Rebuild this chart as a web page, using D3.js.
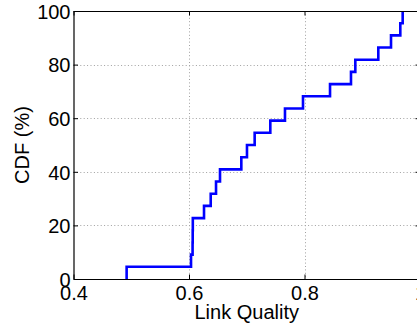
<!DOCTYPE html>
<html>
<head>
<meta charset="utf-8">
<script src="https://cdn.jsdelivr.net/npm/d3@7"></script>
<style>
  html, body { margin: 0; padding: 0; background: #fff; overflow: hidden; }
  svg { display: block; }
  text { font-family: "Liberation Sans", Arial, Helvetica, sans-serif; }
</style>
</head>
<body>
<svg id="chart" width="417" height="329"></svg>
<script>
// Sorted link-quality samples; each one raises the empirical CDF by 1/n.
const samples = [
  0.492, 0.6035, 0.6062, 0.6064, 0.6066, 0.626, 0.6376, 0.6468, 0.6537,
  0.6906, 0.7004, 0.7137, 0.7408, 0.7662, 0.7974, 0.8442, 0.8805, 0.888,
  0.9278, 0.9498, 0.9659, 0.970
];
const xTicks = [0.4, 0.6, 0.8, 1.0];
const xTickLabels = ["0.4", "0.6", "0.8", "1"];
const yTicks = [0, 20, 40, 60, 80, 100];
const xTitle = "Link Quality";
const yTitle = "CDF (%)";

const svg = d3.select("#chart");
const plotL = 73.5, plotR = 420, plotT = 11, plotB = 279;

const x = d3.scaleLinear().domain([0.4, 1.0]).range([plotL, plotR]);
const y = d3.scaleLinear().domain([0, 100]).range([plotB, plotT]);

// Dotted grid at interior ticks
const grid = svg.append("g")
  .attr("stroke", "#a0a0a0")
  .attr("stroke-width", 1)
  .attr("stroke-dasharray", "1,2.4");
grid.selectAll("line.gx")
  .data(xTicks.filter(v => v > 0.4 && v < 1.0))
  .join("line")
  .attr("x1", d => Math.round(x(d)) + 0.5).attr("x2", d => Math.round(x(d)) + 0.5)
  .attr("y1", plotT).attr("y2", plotB);
grid.selectAll("line.gy")
  .data(yTicks.filter(v => v > 0 && v < 100))
  .join("line")
  .attr("y1", d => Math.round(y(d)) + 0.5).attr("y2", d => Math.round(y(d)) + 0.5)
  .attr("x1", plotL).attr("x2", plotR);

// Empirical CDF as a step line
const n = samples.length;
const pts = [[samples[0], 0]].concat(samples.map((s, i) => [s, (i + 1) / n * 100]));
const line = d3.line()
  .x(d => x(d[0]))
  .y(d => y(d[1]))
  .curve(d3.curveStepAfter);
svg.append("path")
  .datum(pts)
  .attr("d", line)
  .attr("fill", "none")
  .attr("stroke", "#0000ff")
  .attr("stroke-width", 2.6)
  .attr("stroke-linejoin", "miter");

// Axes box with inward ticks
const tk = 4.5;
const fmtX = (d) => xTickLabels[xTicks.indexOf(d)];
const gB = svg.append("g").attr("transform", `translate(0,${plotB})`)
  .call(d3.axisBottom(x).tickValues(xTicks).tickFormat(fmtX).tickSize(-tk).tickSizeOuter(0).tickPadding(7));
const gT = svg.append("g").attr("transform", `translate(0,${plotT})`)
  .call(d3.axisTop(x).tickValues(xTicks).tickFormat("").tickSize(-tk).tickSizeOuter(0));
const gL = svg.append("g").attr("transform", `translate(${plotL},0)`)
  .call(d3.axisLeft(y).tickValues(yTicks).tickSize(-tk).tickSizeOuter(0).tickPadding(3));
const gR = svg.append("g").attr("transform", `translate(${plotR},0)`)
  .call(d3.axisRight(y).tickValues(yTicks).tickFormat("").tickSize(-tk).tickSizeOuter(0));

[gB, gT, gL, gR].forEach(g => {
  g.attr("font-size", null).attr("font-family", null);
  g.select(".domain").attr("stroke", "#000").attr("stroke-width", 1.2);
  g.selectAll(".tick line").attr("stroke", "#000").attr("stroke-width", 1);
  g.selectAll(".tick text").attr("fill", "#000").style("font-size", "20px");
});
gL.selectAll(".tick text").attr("dy", "0.36em");

// Axis titles
svg.append("text")
  .attr("x", (plotL + plotR) / 2).attr("y", 319)
  .attr("text-anchor", "middle")
  .style("font-size", "20px")
  .text(xTitle);
svg.append("text")
  .attr("transform", `translate(29,${(plotT + plotB) / 2}) rotate(-90)`)
  .attr("text-anchor", "middle")
  .style("font-size", "20px")
  .text(yTitle);
</script>
</body>
</html>
